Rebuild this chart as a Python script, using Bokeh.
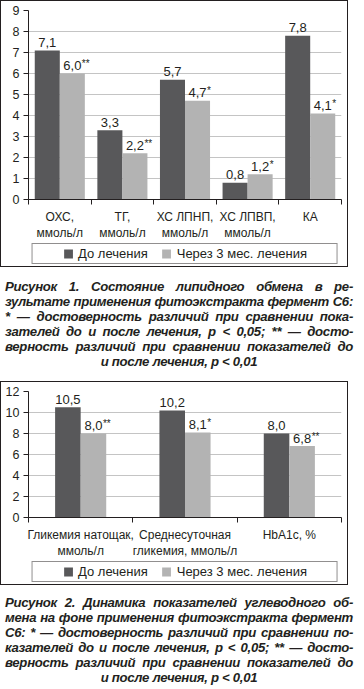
import html
from bokeh.plotting import figure
from bokeh.models import Range1d, FixedTicker, SingleIntervalTicker, Legend, LegendItem, Div
from bokeh.layouts import column
from bokeh.core.properties import value
from bokeh.embed import file_html
from bokeh.resources import INLINE

# ---------------- data ----------------
series_names = ["До лечения", "Через 3 мес. лечения"]

lipid_categories = ["ОХС,\nммоль/л", "ТГ,\nммоль/л", "ХС ЛПНП,\nммоль/л", "ХС ЛПВП,\nммоль/л", "КА"]
lipid_before = [7.1, 3.3, 5.7, 0.8, 7.8]
lipid_after = [6.0, 2.2, 4.7, 1.2, 4.1]
lipid_after_marks = ["**", "**", "*", "*", "*"]
lipid_ymax = 9
lipid_ystep = 1

gly_categories = ["Гликемия натощак,\nммоль/л", "Среднесуточная\nгликемия, ммоль/л", "HbA1c, %"]
gly_before = [10.5, 10.2, 8.0]
gly_after = [8.0, 8.1, 6.8]
gly_after_marks = ["**", "*", "**"]
gly_ymax = 12
gly_ystep = 2

caption1 = [
    "Рисунок 1. Состояние липидного обмена в ре-",
    "зультате применения фитоэкстракта фермент С6:",
    "* — достоверность различий при сравнении пока-",
    "зателей до и после лечения, p < 0,05; ** — досто-",
    "верность различий при сравнении показателей до",
    "и после лечения, p < 0,01",
]
caption2 = [
    "Рисунок 2. Динамика показателей углеводного об-",
    "мена на фоне применения фитоэкстракта фермент",
    "С6: * — достоверность различий при сравнении по-",
    "казателей до и после лечения, p < 0,05; ** — досто-",
    "верность различий при сравнении показателей до",
    "и после лечения, p < 0,01",
]

# ---------------- style ----------------
FONT = "Liberation Sans"
TXT = "#231f20"
DARK = "#58585a"
LIGHT = "#b3b3b3"
GRID = "#c4c4c4"
W = 348


def fmt(v):
    return f"{v:.1f}".replace(".", ",")


def num_width(s, size):
    w = 0.0
    for ch in s:
        w += 0.278 if ch == "," else 0.556
    return w * size


def style_labels(ax, size):
    ax.major_label_text_font = FONT
    ax.major_label_text_font_size = size
    ax.major_label_text_color = TXT


def make_chart(categories, before, after, marks, ymax, ystep, bar_w, height):
    n = len(categories)
    p = figure(width=W, height=height, output_backend="svg", toolbar_location=None,
               x_range=Range1d(0, n), y_range=Range1d(0, ymax),
               min_border_left=28, min_border_right=7, min_border_top=10, min_border_bottom=6)
    p.outline_line_color = None
    p.background_fill_color = None
    p.border_fill_color = None

    centers = [i + 0.5 for i in range(n)]
    xd = [c - bar_w / 2 for c in centers]
    xl = [c + bar_w / 2 for c in centers]

    p.vbar(x=xd, top=before, width=bar_w, fill_color=DARK, line_color=None)
    p.vbar(x=xl, top=after, width=bar_w, fill_color=LIGHT, line_color=None)

    # value labels
    p.text(x=xd, y=before, text=[fmt(v) for v in before], text_align="center",
           text_baseline="alphabetic", y_offset=-8, text_font=value(FONT),
           text_font_size="13px", text_color=TXT)
    p.text(x=xl, y=after, text=[fmt(v) for v in after], text_align="center",
           text_baseline="alphabetic", y_offset=-8, text_font=value(FONT),
           text_font_size="13px", text_color=TXT)
    for xi, v, m in zip(xl, after, marks):
        p.text(x=[xi], y=[v], text=[m], text_align="left", text_baseline="alphabetic",
               x_offset=num_width(fmt(v), 13) / 2 + 0.5, y_offset=-10,
               text_font=value(FONT), text_font_size="10px", text_color=TXT)

    # y axis
    ya = p.yaxis[0]
    ya.ticker = SingleIntervalTicker(interval=ystep, num_minor_ticks=0)
    ya.axis_line_color = TXT
    ya.major_tick_line_color = TXT
    ya.major_tick_out = 5
    ya.major_tick_in = 0
    ya.minor_tick_line_color = None
    ya.major_label_standoff = 4
    style_labels(ya, "12.5px")

    # x axis: labels at centres, ticks at boundaries
    xa = p.xaxis[0]
    xa.ticker = FixedTicker(ticks=centers, minor_ticks=list(range(n + 1)))
    xa.major_label_overrides = {c: lab for c, lab in zip(centers, categories)}
    xa.axis_line_color = TXT
    xa.major_tick_line_color = None
    xa.major_tick_out = 0
    xa.major_tick_in = 0
    xa.minor_tick_line_color = TXT
    xa.minor_tick_out = 5
    xa.minor_tick_in = 0
    xa.major_label_standoff = 5
    style_labels(xa, "12px")

    p.xgrid.grid_line_color = None
    p.ygrid.grid_line_color = GRID
    p.ygrid.grid_line_width = 1
    return p


def make_legend(before, after, height):
    # legend-only strip; the proxy bars use the series data but lie outside the visible range
    n = len(before)
    lp = figure(width=W, height=height, output_backend="svg", toolbar_location=None,
                x_range=Range1d(0, n), y_range=Range1d(-2, -1),
                x_axis_location=None, y_axis_location=None, min_border=0)
    lp.outline_line_color = None
    lp.background_fill_color = None
    lp.border_fill_color = None
    lp.xgrid.grid_line_color = None
    lp.ygrid.grid_line_color = None
    idx = [i + 0.5 for i in range(n)]
    r1 = lp.vbar(x=idx, top=before, width=0.4, fill_color=DARK, line_color=None)
    r2 = lp.vbar(x=idx, top=after, width=0.4, fill_color=LIGHT, line_color=None)
    legend = Legend(items=[LegendItem(label=series_names[0], renderers=[r1]),
                           LegendItem(label=series_names[1], renderers=[r2])],
                    orientation="horizontal", location="top_center")
    legend.border_line_color = TXT
    legend.border_line_width = 1
    legend.background_fill_color = "white"
    legend.label_text_font = FONT
    legend.label_text_font_size = "13px"
    legend.label_text_color = TXT
    legend.glyph_width = 11
    legend.glyph_height = 11
    legend.label_standoff = 5
    legend.spacing = 13
    legend.margin = 0
    try:
        legend.padding = (30, 2)
    except Exception:
        legend.padding = 3
    lp.add_layout(legend)
    return lp


def framed(chart, leg):
    return column(chart, leg, styles={"outline": f"1px solid {TXT}", "outline-offset": "-1px",
                                      "background-color": "white"})


def caption_div(lines, top_pad, height):
    parts = []
    for i, line in enumerate(lines):
        align = "center" if i == len(lines) - 1 else "justify"
        parts.append(f'<div style="display:block;width:{W}px;white-space:nowrap;'
                     f'text-align:{align};text-align-last:{align};">{html.escape(line)}</div>')
    return Div(text="".join(parts), width=W, height=height,
               styles={"font-family": "'Liberation Sans', Arial, sans-serif", "font-weight": "bold",
                       "font-style": "italic", "font-size": "13.2px", "letter-spacing": "-0.3px",
                       "line-height": "15px", "color": TXT, "padding-top": f"{top_pad}px"})


p1 = make_chart(lipid_categories, lipid_before, lipid_after, lipid_after_marks,
                lipid_ymax, lipid_ystep, 0.4, 243)
l1 = make_legend(lipid_before, lipid_after, 24)
d1 = caption_div(caption1, 7, 104)
p2 = make_chart(gly_categories, gly_before, gly_after, gly_after_marks,
                gly_ymax, gly_ystep, 0.245, 180)
l2 = make_legend(gly_before, gly_after, 24)
d2 = caption_div(caption2, 5, 96)

layout = column(framed(p1, l1), d1, framed(p2, l2), d2)
open("out.html", "w").write(file_html(layout, INLINE))
